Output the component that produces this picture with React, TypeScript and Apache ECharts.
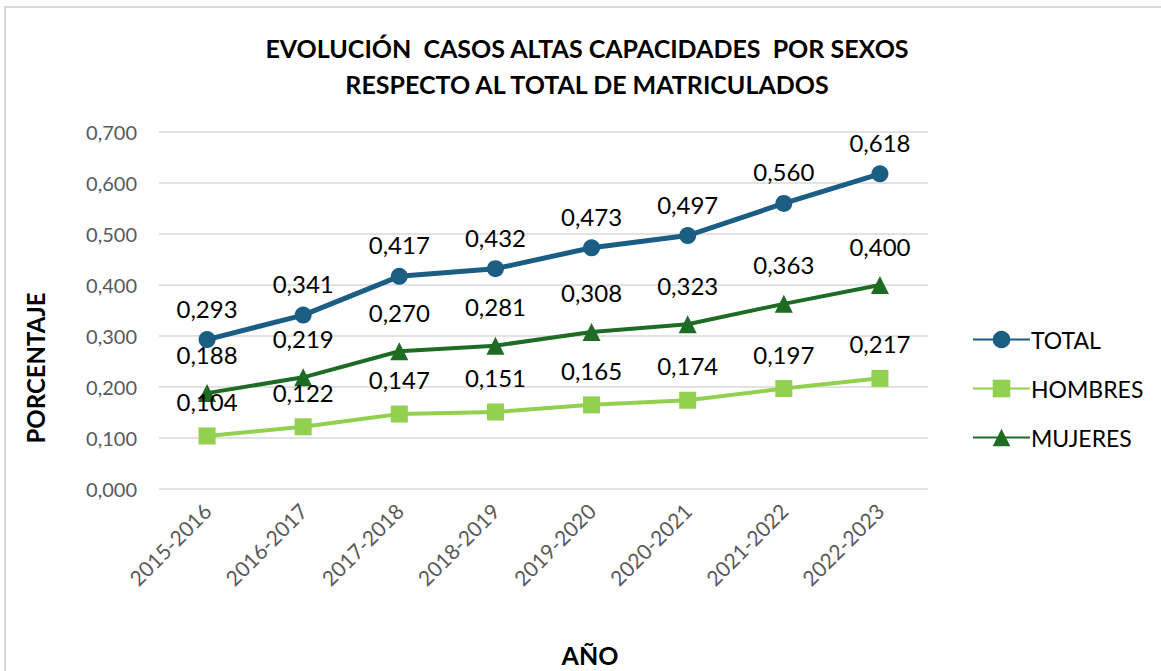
import React, { useEffect, useRef } from "react";
import * as echarts from "echarts";

const categories = ["2015-2016", "2016-2017", "2017-2018", "2018-2019", "2019-2020", "2020-2021", "2021-2022", "2022-2023"];
const totalValues = [0.293, 0.341, 0.417, 0.432, 0.473, 0.497, 0.56, 0.618];
const hombresValues = [0.104, 0.122, 0.147, 0.151, 0.165, 0.174, 0.197, 0.217];
const mujeresValues = [0.188, 0.219, 0.27, 0.281, 0.308, 0.323, 0.363, 0.4];
const titleLines = ["EVOLUCIÓN  CASOS ALTAS CAPACIDADES  POR SEXOS", "RESPECTO AL TOTAL DE MATRICULADOS"];

const FONT = "Lato, 'Open Sans', sans-serif";
const fmt = (v: number) => v.toFixed(3).replace(".", ",");

export default function App() {
  const ref = useRef<HTMLDivElement>(null);
  useEffect(() => {
    if (!ref.current) return;
    const chart = echarts.init(ref.current, null, { renderer: "svg" });
    const labelStyle = (dist: number) => ({
      show: true,
      position: "top" as const,
      distance: dist,
      color: "#000",
      fontSize: 24,
      fontFamily: FONT,
      formatter: (p: any) => fmt(p.value),
    });
    chart.setOption({
      animation: false,
      backgroundColor: "#fff",
      textStyle: { fontFamily: FONT },
      graphic: [
        {
          type: "rect",
          shape: { x: 5, y: 7, width: 1200, height: 720 },
          style: { fill: "none", stroke: "#D9D9D9", lineWidth: 2 },
          silent: true,
        },
        {
          type: "text",
          x: 587,
          y: 48,
          style: { text: titleLines[0], fill: "#000", font: "bold 25px " + FONT, textAlign: "center", textVerticalAlign: "middle" },
        },
        {
          type: "text",
          x: 587,
          y: 84,
          style: { text: titleLines[1], fill: "#000", font: "bold 25px " + FONT, textAlign: "center", textVerticalAlign: "middle" },
        },
        {
          type: "text",
          x: 35,
          y: 368,
          rotation: Math.PI / 2,
          style: { text: "PORCENTAJE", fill: "#000", font: "bold 24px " + FONT, textAlign: "center", textVerticalAlign: "middle" },
        },
        {
          type: "text",
          x: 590,
          y: 655,
          style: { text: "AÑO", fill: "#000", font: "bold 25px " + FONT, textAlign: "center", textVerticalAlign: "middle" },
        },
      ],
      grid: { left: 159, right: 1161 - 928, top: 132, bottom: 182 },
      legend: {
        orient: "vertical",
        left: 967,
        top: 323,
        itemGap: 26,
        itemWidth: 57,
        itemHeight: 22,
        textStyle: { color: "#000", fontSize: 23, fontFamily: FONT, padding: [0, 0, 0, -4] },
        data: ["TOTAL", "HOMBRES", "MUJERES"],
      },
      xAxis: {
        type: "category",
        data: categories,
        axisLine: { show: false },
        axisTick: { show: false },
        axisLabel: { rotate: 45, color: "#595959", fontSize: 21, fontFamily: FONT, margin: 18 },
      },
      yAxis: {
        type: "value",
        min: 0,
        max: 0.7,
        interval: 0.1,
        axisLabel: { color: "#595959", fontSize: 20, fontFamily: FONT, margin: 22, formatter: (v: number) => fmt(v) },
        splitLine: { lineStyle: { color: "#D9D9D9", width: 1.5 } },
        axisLine: { show: false },
        axisTick: { show: false },
      },
      series: [
        {
          name: "TOTAL",
          type: "line",
          data: totalValues,
          symbol: "circle",
          symbolSize: 17,
          color: "#1B5E84",
          lineStyle: { width: 5, color: "#1B5E84" },
          itemStyle: { color: "#1B5E84" },
          label: labelStyle(11),
          z: 3,
        },
        {
          name: "HOMBRES",
          type: "line",
          data: hombresValues,
          symbol: "rect",
          symbolSize: 17,
          color: "#92D050",
          lineStyle: { width: 4, color: "#92D050" },
          itemStyle: { color: "#92D050" },
          label: labelStyle(14),
          z: 2,
        },
        {
          name: "MUJERES",
          type: "line",
          data: mujeresValues,
          symbol: "triangle",
          symbolSize: 18,
          color: "#1E6B24",
          lineStyle: { width: 4, color: "#1E6B24" },
          itemStyle: { color: "#1E6B24" },
          label: labelStyle(18),
          z: 2,
        },
      ],
    });
    return () => chart.dispose();
  }, []);
  return <div ref={ref} style={{ position: "fixed", left: 0, top: 0, width: 1161, height: 671 }} />;
}
